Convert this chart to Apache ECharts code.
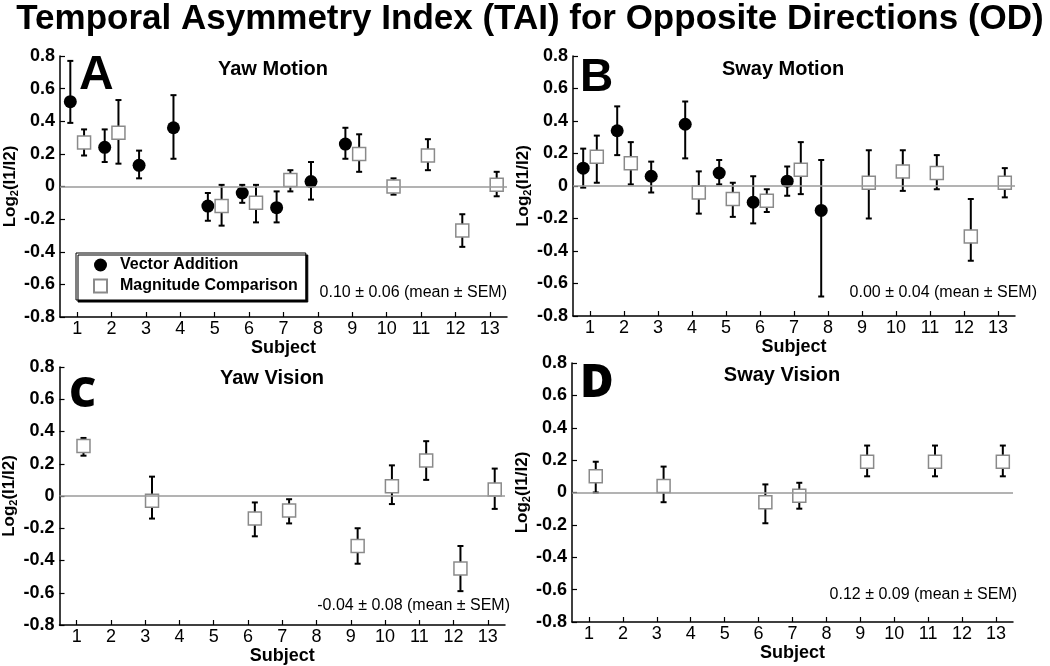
<!DOCTYPE html>
<html><head><meta charset="utf-8">
<script src="https://cdn.jsdelivr.net/npm/echarts@6/dist/echarts.min.js"></script>
<style>html,body{margin:0;padding:0;background:#fff}#c{width:1050px;height:666px}</style>
</head><body><div id="c"></div>
<script>
// ---------- data ----------
const subjectTicks = [1,2,3,4,5,6,7,8,9,10,11,12,13];
const mainTitle = 'Temporal Asymmetry Index (TAI) for Opposite Directions (OD)';
const seriesNames = ['Vector Addition', 'Magnitude Comparison'];

// Panel A: Yaw Motion
const A_va_subj = [1,2,3,4,5,6,7,8,9];
const A_va_mean = [0.52,0.24,0.13,0.36,-0.12,-0.04,-0.13,0.03,0.26];
const A_va_low  = [0.39,0.15,0.05,0.17,-0.21,-0.10,-0.22,-0.08,0.17];
const A_va_high = [0.77,0.35,0.22,0.56,-0.04,0.01,-0.03,0.15,0.36];
const A_mc_subj = [1,2,5,6,7,9,10,11,12,13];
const A_mc_mean = [0.27,0.33,-0.12,-0.10,0.04,0.20,0.00,0.19,-0.27,0.01];
const A_mc_low  = [0.19,0.14,-0.24,-0.22,-0.03,0.09,-0.05,0.10,-0.37,-0.06];
const A_mc_high = [0.35,0.53,0.01,0.01,0.10,0.32,0.05,0.29,-0.17,0.09];

// Panel B: Sway Motion
const B_va_subj = [1,2,3,4,5,6,7,8];
const B_va_mean = [0.11,0.34,0.06,0.38,0.08,-0.10,0.03,-0.15];
const B_va_low  = [-0.01,0.19,-0.04,0.17,0.01,-0.23,-0.06,-0.68];
const B_va_high = [0.23,0.49,0.15,0.52,0.16,0.06,0.12,0.16];
const B_mc_subj = [1,2,4,5,6,7,9,10,11,12,13];
const B_mc_mean = [0.18,0.14,-0.04,-0.08,-0.09,0.10,0.02,0.09,0.08,-0.31,0.02];
const B_mc_low  = [0.02,0.01,-0.17,-0.19,-0.16,-0.05,-0.20,-0.03,-0.02,-0.46,-0.07];
const B_mc_high = [0.31,0.27,0.09,0.02,-0.02,0.27,0.22,0.22,0.19,-0.08,0.11];

// Panel C: Yaw Vision
const C_mc_subj = [1,3,6,7,9,10,11,12,13];
const C_mc_mean = [0.31,-0.03,-0.14,-0.09,-0.31,0.06,0.22,-0.45,0.04];
const C_mc_low  = [0.25,-0.14,-0.25,-0.17,-0.42,-0.05,0.10,-0.59,-0.08];
const C_mc_high = [0.36,0.12,-0.04,-0.02,-0.20,0.19,0.34,-0.31,0.17];

// Panel D: Sway Vision
const D_mc_subj = [1,3,6,7,9,11,13];
const D_mc_mean = [0.10,0.04,-0.06,-0.02,0.19,0.19,0.19];
const D_mc_low  = [0.00,-0.06,-0.19,-0.10,0.10,0.10,0.10];
const D_mc_high = [0.19,0.16,0.05,0.06,0.29,0.29,0.29];

const panelLetters = ['A','B','C','D'];
const panelTitles = ['Yaw Motion','Sway Motion','Yaw Vision','Sway Vision'];
const panelStats = ['0.10 ± 0.06 (mean ± SEM)','0.00 ± 0.04 (mean ± SEM)','-0.04 ± 0.08 (mean ± SEM)','0.12 ± 0.09 (mean ± SEM)'];

// ---------- layout ----------
const FONT = '"Liberation Sans", Arial, Helvetica, sans-serif';
const OFFSET = 0.2; // horizontal shift of the two methods around each subject
const grids = [
  {left:60,  top:56,  width:447, height:261},
  {left:573, top:56,  width:442, height:260},
  {left:58,  top:367, width:447, height:258},
  {left:572, top:363, width:441, height:259}
];
const panelData = [
  {va:[A_va_subj,A_va_mean,A_va_low,A_va_high], mc:[A_mc_subj,A_mc_mean,A_mc_low,A_mc_high]},
  {va:[B_va_subj,B_va_mean,B_va_low,B_va_high], mc:[B_mc_subj,B_mc_mean,B_mc_low,B_mc_high]},
  {va:null, mc:[C_mc_subj,C_mc_mean,C_mc_low,C_mc_high]},
  {va:null, mc:[D_mc_subj,D_mc_mean,D_mc_low,D_mc_high]}
];

function renderErr(params, api){
  const x = api.value(0), lo = api.value(1), hi = api.value(2);
  const p1 = api.coord([x, hi]), p2 = api.coord([x, lo]);
  const w = 3;
  const st = {stroke:'#000', lineWidth:2};
  return {type:'group', children:[
    {type:'line', shape:{x1:p1[0],y1:p1[1],x2:p2[0],y2:p2[1]}, style:st},
    {type:'line', shape:{x1:p1[0]-w,y1:p1[1],x2:p1[0]+w,y2:p1[1]}, style:st},
    {type:'line', shape:{x1:p2[0]-w,y1:p2[1],x2:p2[0]+w,y2:p2[1]}, style:st}
  ]};
}

const xAxes = [], yAxes = [], series = [];
grids.forEach((g, i) => {
  xAxes.push({
    gridIndex:i, type:'value', min:0.5, max:13.5,
    name:'Subject', nameLocation:'middle', nameGap:22,
    nameTextStyle:{fontWeight:'bold', fontSize:18, color:'#000', fontFamily:FONT},
    axisLine:{show:true, onZero:false, lineStyle:{color:'#000', width:1.5}},
    axisTick:{show:true, inside:true, length:5, customValues:subjectTicks, lineStyle:{color:'#000', width:1.2}},
    axisLabel:{show:true, customValues:subjectTicks, margin:3, fontSize:18, color:'#000', fontFamily:FONT},
    splitLine:{show:false}
  });
  yAxes.push({
    gridIndex:i, type:'value', min:-0.8, max:0.8, interval:0.2,
    name:'{b|Log}{s|2}{b|(I1/I2)}', nameLocation:'middle', nameGap:40,
    nameTextStyle:{color:'#000', fontFamily:FONT, rich:{
      b:{fontSize:17, fontWeight:'bold', color:'#000', fontFamily:FONT},
      s:{fontSize:11, fontWeight:'bold', color:'#000', fontFamily:FONT, verticalAlign:'bottom', padding:[9,0,0,0]}
    }},
    axisLine:{show:true, lineStyle:{color:'#000', width:1.5}},
    axisTick:{show:true, inside:true, length:5, lineStyle:{color:'#000', width:1.2}},
    axisLabel:{margin:5, fontSize:18, fontWeight:'bold', color:'#000', fontFamily:FONT,
      formatter: v => Math.abs(v) < 1e-9 ? '0' : v.toFixed(1)},
    splitLine:{show:false}
  });
  // zero reference line
  series.push({type:'line', xAxisIndex:i, yAxisIndex:i, data:[], silent:true, z:1,
    markLine:{silent:true, symbol:'none', label:{show:false}, animation:false,
      lineStyle:{color:'#9a9a9a', width:1.5, type:'solid'}, data:[{yAxis:0}]}});
  const pd = panelData[i];
  const groups = [['va', -OFFSET, 0], ['mc', OFFSET, 1]];
  groups.forEach(([k, off, si]) => {
    const arr = pd[k];
    if (!arr) return;
    const [subj, mean, lo, hi] = arr;
    series.push({
      type:'custom', xAxisIndex:i, yAxisIndex:i, z:2, silent:true,
      renderItem: renderErr, encode:{x:0, y:[1,2]},
      data: subj.map((s, j) => [s + off, lo[j], hi[j]])
    });
    series.push({
      name: seriesNames[si], type:'scatter', xAxisIndex:i, yAxisIndex:i, z:3,
      symbol: si === 0 ? 'circle' : 'rect',
      symbolSize: si === 0 ? 13 : 13,
      itemStyle: si === 0 ? {color:'#000', opacity:1} : {color:'#fff', borderColor:'#8a8a8a', borderWidth:1.5, opacity:1},
      data: subj.map((s, j) => [s + off, mean[j]])
    });
  });
});

const letterPos = [
  {x:79, y:76, size:48, font:FONT},
  {x:580, y:78, size:46, font:FONT},
  {x:69, y:395, size:42, font:'"Open Sans", ' + FONT},
  {x:580, y:384, size:46, font:'"Open Sans", ' + FONT}
];
const titlePos = [[273,69],[783,69],[272,378],[782,375]];
const statPos = [[507,293],[1037,293],[510,606],[1017,595]];

const graphic = [
  {type:'text', x:530, y:19, style:{text:mainTitle, font:'bold 35px ' + FONT, fill:'#000', textAlign:'center', textVerticalAlign:'middle'}}
];
panelLetters.forEach((L, i) => {
  const p = letterPos[i];
  graphic.push({type:'text', x:p.x, y:p.y, style:{text:L, font:'900 ' + p.size + 'px ' + p.font, fill:'#000', textAlign:'left', textVerticalAlign:'middle'}});
  graphic.push({type:'text', x:titlePos[i][0], y:titlePos[i][1], style:{text:panelTitles[i], font:'bold 20px ' + FONT, fill:'#000', textAlign:'center', textVerticalAlign:'middle'}});
  graphic.push({type:'text', x:statPos[i][0], y:statPos[i][1], style:{text:panelStats[i], font:'16px ' + FONT, fill:'#000', textAlign:'right', textVerticalAlign:'middle'}});
});

const chart = echarts.init(document.getElementById('c'), null, {renderer:'canvas'});
chart.setOption({
  animation:false,
  backgroundColor:'#fff',
  textStyle:{fontFamily:FONT},
  grid: grids.map(g => Object.assign({containLabel:false}, g)),
  xAxis:xAxes, yAxis:yAxes, series:series, graphic:graphic,
  legend:{
    data:seriesNames, orient:'vertical', left:76, top:253,
    padding:[4,8,6,17], itemWidth:13, itemHeight:13, itemGap:5,
    backgroundColor:'#fff', borderColor:'#000', borderWidth:1,
    shadowColor:'#000', shadowBlur:0, shadowOffsetX:2, shadowOffsetY:2,
    textStyle:{fontSize:16, fontWeight:'bold', color:'#000', fontFamily:FONT, lineHeight:16, padding:[0,0,0,8]},
    selectedMode:false
  }
});
</script></body></html>
